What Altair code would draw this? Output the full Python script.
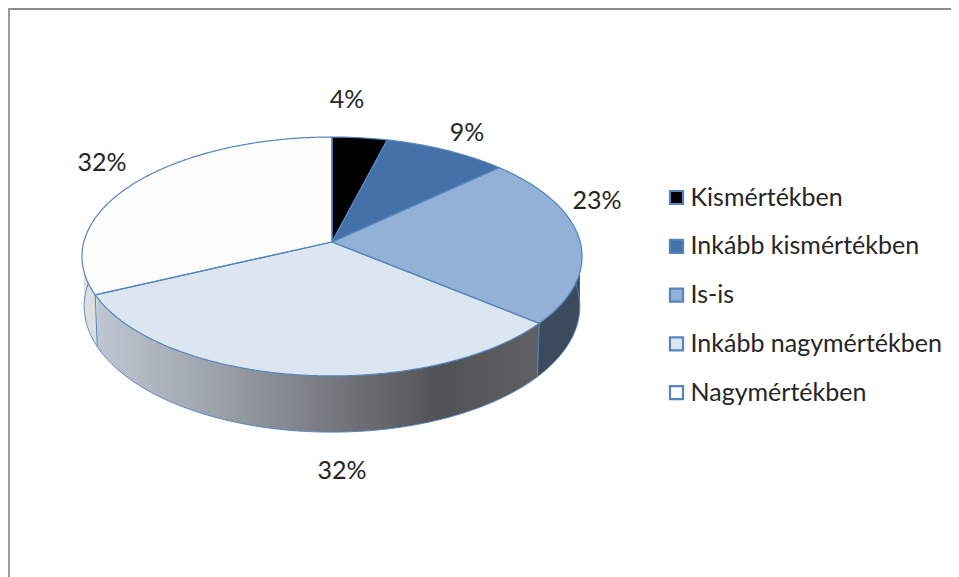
import math
import altair as alt
import pandas as pd

CATEGORIES = ["Kismértékben", "Inkább kismértékben", "Is-is", "Inkább nagymértékben", "Nagymértékben"]
VALUES = [4, 9, 23, 32, 32]
TOP_COLORS = ["#000000", "#4472a8", "#93b1d6", "#dce6f1", "#fdfdfd"]
OUTLINE = "#5585bf"
TEXT = "#262626"
FONT = "Lato"

W, H = 943, 569
OX, OY = 8, 8

# perspective view of the pie disc, page-pixel units
C = 0.1213
TOP = dict(cx=332, cy=242, kx=248.2, ky=117.7)
BOTTOM = dict(cx=332, cy=291, kx=246.0, ky=124.0)


def project(deg, g):
    u, v = math.sin(math.radians(deg)), math.cos(math.radians(deg))
    d = 1 + C * v
    return g["cx"] + g["kx"] * u / d, g["cy"] - g["ky"] * v / d


def arc(a, b, g):
    n = max(2, int(abs(b - a)) * 2)
    return [project(a + (b - a) * i / n, g) for i in range(n + 1)]


def spans(poly):
    xs = sorted({round(p[0], 2) for p in poly})
    out = []
    for x in xs:
        ys = []
        for (x0, y0), (x1, y1) in zip(poly, poly[1:] + poly[:1]):
            lo, hi = min(x0, x1), max(x0, x1)
            if lo - 0.011 <= x <= hi + 0.011:
                if abs(x1 - x0) < 1e-6:
                    ys += [y0, y1]
                else:
                    t = min(1, max(0, (x - x0) / (x1 - x0)))
                    ys.append(y0 + (y1 - y0) * t)
        if ys:
            out.append(dict(x=x, y=min(ys), y2=max(ys)))
    return out


cuts = [0]
for v in VALUES:
    cuts.append(cuts[-1] + v / sum(VALUES) * 360)

x_enc = alt.X("x:Q", axis=None, scale=alt.Scale(domain=[OX, OX + W], nice=False, zero=False))
y_enc = alt.Y("y:Q", axis=None, scale=alt.Scale(domain=[OY + H, OY], nice=False, zero=False))

# top faces
top_rows = []
top_lines = []
for i, name in enumerate(CATEGORIES):
    a, b = cuts[i], cuts[i + 1]
    apex = (TOP["cx"], TOP["cy"])
    poly = [apex] + arc(a, b, TOP)
    for r in spans(poly):
        top_rows.append(dict(r, cat=name))
    for j, (x, y) in enumerate(poly + [apex]):
        top_lines.append(dict(x=x, y=y, path=f"top{i}", i=j))

top_layer = alt.Chart(pd.DataFrame(top_rows)).mark_area(interpolate="linear").encode(
    x=x_enc,
    y=y_enc,
    y2="y2:Q",
    color=alt.Color(
        "cat:N",
        scale=alt.Scale(domain=CATEGORIES, range=TOP_COLORS),
        sort=CATEGORIES,
        legend=alt.Legend(
            title=None,
            orient="none",
            legendX=656,
            legendY=177,
            symbolType="square",
            symbolSize=170,
            symbolStrokeColor=OUTLINE,
            symbolStrokeWidth=2.2,
            symbolOpacity=1,
            labelFont=FONT,
            labelFontSize=25,
            labelColor=TEXT,
            labelOffset=1.5,
            labelLimit=300,
            rowPadding=22.8,
        ),
    ),
)


# side walls
def wall(a, b, fill):
    poly = arc(a, b, TOP) + arc(b, a, BOTTOM)
    return alt.Chart(pd.DataFrame(spans(poly))).mark_area(color=fill, interpolate="linear").encode(
        x=x_enc, y=y_enc, y2="y2:Q"
    )


def h_grad(stops):
    return alt.LinearGradient(
        gradient="linear", x1=0, x2=1, y1=0, y2=0,
        stops=[alt.GradientStop(color=c, offset=o) for c, o in stops],
    )


front = h_grad([("#bfc7d2", 0), ("#a2a8b2", 0.23), ("#76797f", 0.53), ("#505256", 0.78), ("#5f6165", 1)])
walls = [
    wall(cuts[2] + 4, cuts[3], "#3c4a5e"),
    wall(cuts[3], cuts[4], front),
    wall(cuts[4], cuts[4] + 55, "#dedede"),
]

# outlines of the lower rim and the visible slice edges (drawn under the top faces)
rim_lines = []
for j, (x, y) in enumerate(arc(cuts[2] + 4, cuts[4] + 55, BOTTOM)):
    rim_lines.append(dict(x=x, y=y, path="rim", i=j))
for k, c in enumerate([cuts[3], cuts[4]]):
    for j, (x, y) in enumerate([project(c, TOP), project(c, BOTTOM)]):
        rim_lines.append(dict(x=x, y=y, path=f"edge{k}", i=j))


def outline(rows, width):
    return alt.Chart(pd.DataFrame(rows)).mark_line(color=OUTLINE, strokeWidth=width, interpolate="linear").encode(
        x=x_enc, y=y_enc, detail="path:N", order="i:Q"
    )


# percent labels
label_df = pd.DataFrame(dict(
    text=[f"{v}%" for v in VALUES],
    x=[347, 467, 597, 342, 102],
    y=[100, 133, 201, 471, 163],
))
labels = alt.Chart(label_df).mark_text(font=FONT, fontSize=25, color=TEXT, align="center", baseline="middle").encode(
    x=x_enc, y=y_enc, text="text:N"
)

# frame
frame_df = pd.DataFrame(dict(k=["a"]))
top_line = alt.Chart(frame_df).mark_rule(color="#8c8c8c", strokeWidth=2).encode(
    x=alt.value(0), x2=alt.value(W), y=alt.value(1)
)
left_line = alt.Chart(frame_df).mark_rule(color="#9a9a9a", strokeWidth=2).encode(
    x=alt.value(1), y=alt.value(0), y2=alt.value(H)
)

chart = alt.layer(
    top_line, left_line, *walls, outline(rim_lines, 1), top_layer, outline(top_lines, 1.2), labels
).properties(
    width=W, height=H, padding=0, autosize="none", background="white"
).configure_view(stroke=None)

chart.save("out.html", embed_options={"renderer": "svg", "actions": False})
